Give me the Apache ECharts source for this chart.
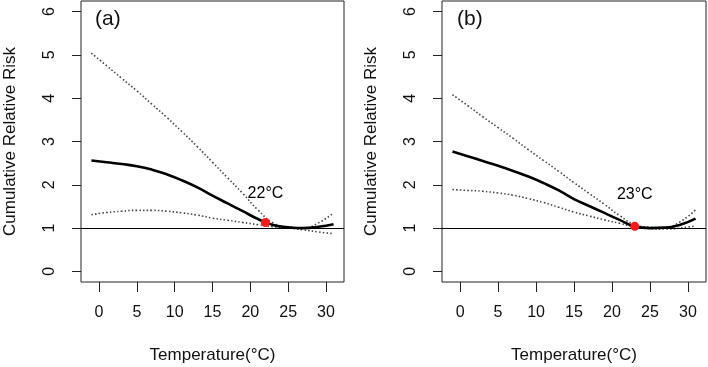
<!DOCTYPE html>
<html>
<head>
<meta charset="utf-8">
<script src="https://cdn.jsdelivr.net/npm/echarts@6/dist/echarts.min.js"></script>
<style>
  html, body { margin: 0; padding: 0; background: #fff; }
  #chart { width: 708px; height: 367px; }
</style>
</head>
<body>
<div id="chart"></div>
<script>
// temperature grid (°C) shared by both panels
const temps = [-1, 1, 3, 5, 7, 9, 11, 13, 15, 17, 19, 21, 23, 25, 27, 29, 31]

// panel (a)
const rrA = [2.56, 2.52, 2.48, 2.43, 2.35, 2.24, 2.10, 1.94, 1.75, 1.57, 1.39, 1.21, 1.07, 1.02, 1.00, 1.03, 1.09]
const upperA = [5.04, 4.75, 4.46, 4.17, 3.86, 3.55, 3.22, 2.88, 2.52, 2.16, 1.80, 1.42, 1.12, 1.02, 1.00, 1.12, 1.35]
const lowerA = [1.31, 1.36, 1.39, 1.41, 1.41, 1.39, 1.35, 1.30, 1.23, 1.18, 1.13, 1.08, 1.03, 1.00, 0.96, 0.91, 0.87]
const mmtA = [22, 1.13]
const mmtLabelA = [22, 1.80, '22°C']

// panel (b)
const rrB = [2.77, 2.66, 2.55, 2.44, 2.32, 2.19, 2.04, 1.87, 1.67, 1.51, 1.35, 1.19, 1.04, 1.00, 1.01, 1.08, 1.22]
const upperB = [4.08, 3.83, 3.57, 3.32, 3.07, 2.81, 2.56, 2.31, 2.05, 1.80, 1.55, 1.29, 1.08, 1.02, 1.01, 1.15, 1.42]
const lowerB = [1.89, 1.87, 1.85, 1.81, 1.76, 1.68, 1.59, 1.48, 1.37, 1.28, 1.19, 1.11, 1.03, 0.99, 0.98, 1.00, 1.05]
const mmtB = [23, 1.04]
const mmtLabelB = [23, 1.77, '23°C']

const xTicks = [0, 5, 10, 15, 20, 25, 30]
const yTicks = [0, 1, 2, 3, 4, 5, 6]
const refLine = 1

const X_MIN = -2.38
const X_MAX = 32.38
const FONT = '"Liberation Sans", Arial, Helvetica, sans-serif'
const INK = '#111'

const pair = (ys) => temps.map((t, i) => [t, ys[i]])

const xAxisFor = (gridIndex) => ({
  gridIndex,
  type: 'value',
  min: X_MIN,
  max: X_MAX,
  name: 'Temperature(°C)',
  nameLocation: 'middle',
  nameGap: 65,
  nameMoveOverlap: false,
  nameTextStyle: { color: INK, fontSize: 17, fontFamily: FONT },
  axisLine: { show: false, onZero: false },
  splitLine: { show: false },
  axisTick: { show: true, inside: false, length: 10, customValues: xTicks, lineStyle: { color: '#222', width: 1 } },
  axisLabel: { customValues: xTicks, color: INK, fontSize: 16, fontFamily: FONT, margin: 23 }
})

// y tick labels are drawn below as rotated graphic text, R style
const yAxisFor = (gridIndex) => ({
  gridIndex,
  type: 'value',
  min: -0.245,
  max: 6.245,
  name: 'Cumulative Relative Risk',
  nameLocation: 'middle',
  nameGap: 62,
  nameRotate: 90,
  nameMoveOverlap: false,
  nameTextStyle: { color: INK, fontSize: 17, fontFamily: FONT },
  axisLine: { show: false, onZero: false },
  splitLine: { show: false },
  axisTick: { show: true, inside: false, length: 9, customValues: yTicks, lineStyle: { color: '#222', width: 1 } },
  axisLabel: { show: false }
})

const ciStyle = { color: '#444', width: 1.6, type: [1.5, 2.2] }

const panelSeries = (idx, rr, upper, lower, mmt, mmtLabel) => [
  {
    type: 'line',
    xAxisIndex: idx,
    yAxisIndex: idx,
    data: pair(upper),
    smooth: 0.5,
    showSymbol: false,
    lineStyle: ciStyle,
    silent: true
  },
  {
    type: 'line',
    xAxisIndex: idx,
    yAxisIndex: idx,
    data: pair(lower),
    smooth: 0.5,
    showSymbol: false,
    lineStyle: ciStyle,
    silent: true
  },
  {
    type: 'line',
    xAxisIndex: idx,
    yAxisIndex: idx,
    data: pair(rr),
    smooth: 0.5,
    showSymbol: false,
    lineStyle: { color: '#000', width: 2.6 },
    markLine: {
      silent: true,
      symbol: ['none', 'none'],
      label: { show: false },
      lineStyle: { color: '#000', width: 1.1, type: 'solid' },
      data: [{ yAxis: refLine }]
    },
    z: 3
  },
  {
    type: 'scatter',
    xAxisIndex: idx,
    yAxisIndex: idx,
    data: [mmt],
    symbolSize: 9,
    itemStyle: { color: '#ff1a1a', opacity: 1 },
    z: 5
  },
  {
    type: 'scatter',
    xAxisIndex: idx,
    yAxisIndex: idx,
    data: [mmtLabel],
    symbolSize: 0,
    itemStyle: { opacity: 1 },
    label: {
      show: true,
      position: 'inside',
      formatter: (p) => p.data[2],
      color: '#000',
      opacity: 1,
      fontSize: 16,
      fontFamily: FONT
    },
    z: 6
  }
]

const chart = echarts.init(document.getElementById('chart'), null, { renderer: 'canvas' })

chart.setOption({
  animation: false,
  backgroundColor: '#fff',
  title: [
    { text: '(a)', left: 90, top: 4, textStyle: { color: INK, fontSize: 21, fontWeight: 'normal', fontFamily: FONT } },
    { text: '(b)', left: 452, top: 4, textStyle: { color: INK, fontSize: 21, fontWeight: 'normal', fontFamily: FONT } }
  ],
  grid: [
    { left: 81, top: 1, width: 263, height: 281, outerBoundsMode: 'none', show: true, borderColor: '#222', borderWidth: 1, backgroundColor: 'transparent' },
    { left: 442, top: 1, width: 264, height: 281, outerBoundsMode: 'none', show: true, borderColor: '#222', borderWidth: 1, backgroundColor: 'transparent' }
  ],
  xAxis: [xAxisFor(0), xAxisFor(1)],
  yAxis: [yAxisFor(0), yAxisFor(1)],
  series: [
    ...panelSeries(0, rrA, upperA, lowerA, mmtA, mmtLabelA),
    ...panelSeries(1, rrB, upperB, lowerB, mmtB, mmtLabelB)
  ]
})

// rotated y tick labels, placed through the grid's own scale
const yLabels = []
;[0, 1].forEach((gridIndex) => {
  yTicks.forEach((v) => {
    const [px, py] = chart.convertToPixel({ gridIndex }, [X_MIN, v])
    yLabels.push({
      type: 'text',
      x: px - 31,
      y: py,
      rotation: Math.PI / 2,
      silent: true,
      style: {
        text: String(v),
        fill: INK,
        font: '16px ' + FONT,
        textAlign: 'center',
        textVerticalAlign: 'middle'
      }
    })
  })
})
chart.setOption({ graphic: yLabels })
</script>
</body>
</html>
